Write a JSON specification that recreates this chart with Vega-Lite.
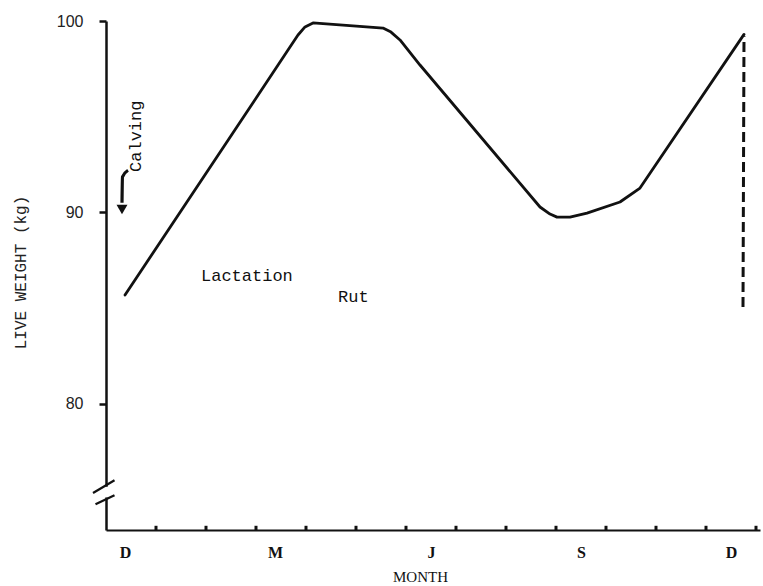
{
  "$schema": "https://vega.github.io/schema/vega-lite/v6.json",
  "autosize": {"type": "none"},
  "width": 654,
  "height": 509,
  "padding": {"left": 106, "top": 21, "right": 3, "bottom": 56},
  "background": "white",
  "config": {"view": {"stroke": null}},
  "datasets": {
    "weight": [
      {"month": 0.38, "kg": 85.68},
      {"month": 3.64, "kg": 98.48},
      {"month": 3.84, "kg": 99.27},
      {"month": 3.98, "kg": 99.69},
      {"month": 4.14, "kg": 99.9},
      {"month": 5.54, "kg": 99.63},
      {"month": 5.7, "kg": 99.42},
      {"month": 5.88, "kg": 99.01},
      {"month": 6.28, "kg": 97.7},
      {"month": 8.68, "kg": 90.28},
      {"month": 8.88, "kg": 89.91},
      {"month": 9.02, "kg": 89.75},
      {"month": 9.28, "kg": 89.75},
      {"month": 9.62, "kg": 89.96},
      {"month": 10.28, "kg": 90.54},
      {"month": 10.68, "kg": 91.27},
      {"month": 12.76, "kg": 99.3}
    ],
    "dashed": [
      {"month": 12.76, "kg": 99.2},
      {"month": 12.74, "kg": 85.05}
    ],
    "arrow": [
      {"month": 0.44, "kg": 92.2},
      {"month": 0.33, "kg": 91.85},
      {"month": 0.32, "kg": 90.5}
    ],
    "arrowhead": [{"month": 0.32, "kg": 90.15}],
    "ticks": [
      {"month": 1, "lo": 73.4, "hi": 73.62},
      {"month": 2, "lo": 73.4, "hi": 73.62},
      {"month": 3, "lo": 73.4, "hi": 73.62},
      {"month": 4, "lo": 73.4, "hi": 73.62},
      {"month": 5, "lo": 73.4, "hi": 73.62},
      {"month": 6, "lo": 73.4, "hi": 73.62},
      {"month": 7, "lo": 73.4, "hi": 73.62},
      {"month": 8, "lo": 73.4, "hi": 73.62},
      {"month": 9, "lo": 73.4, "hi": 73.62},
      {"month": 10, "lo": 73.4, "hi": 73.62},
      {"month": 11, "lo": 73.4, "hi": 73.62},
      {"month": 12, "lo": 73.4, "hi": 73.62},
      {"month": 13, "lo": 73.4, "hi": 73.62}
    ],
    "breakgap": [{"x1": 0, "x2": 0, "y1": 75.1, "y2": 75.66}],
    "slashes": [
      {"x1": -0.26, "x2": 0.17, "y1": 75.33, "y2": 76.0},
      {"x1": -0.21, "x2": 0.17, "y1": 74.75, "y2": 75.22}
    ],
    "labels": [
      {"month": 1.9, "kg": 86.41, "text": "Lactation"},
      {"month": 4.64, "kg": 85.31, "text": "Rut"}
    ],
    "calving": [{"month": 0.7, "kg": 92.11, "text": "Calving"}]
  },
  "layer": [
    {
      "data": {"name": "weight"},
      "mark": {"type": "line", "color": "#111", "strokeWidth": 2.8, "strokeJoin": "round", "strokeCap": "round"},
      "encoding": {
        "x": {
          "field": "month", "type": "quantitative",
          "scale": {"domain": [0, 13.08], "nice": false, "zero": false},
          "axis": {
            "title": "MONTH",
            "titleFont": "Liberation Serif", "titleFontSize": 15, "titleFontWeight": "normal", "titleColor": "#111",
            "titleX": 314, "titleY": 51, "titleBaseline": "alphabetic", "titleAlign": "center",
            "values": [0.38, 3.38, 6.5, 9.5, 12.5],
            "labelExpr": "datum.value < 1 ? 'D' : datum.value < 4 ? 'M' : datum.value < 7 ? 'J' : datum.value < 10 ? 'S' : 'D'",
            "labelFont": "Liberation Serif", "labelFontSize": 16, "labelFontWeight": "bold", "labelColor": "#111",
            "labelPadding": 14, "ticks": false, "tickSize": 0, "grid": false,
            "domainColor": "#111", "domainWidth": 2
          }
        },
        "y": {
          "field": "kg", "type": "quantitative",
          "scale": {"domain": [73.4, 100], "nice": false, "zero": false},
          "axis": {
            "title": "LIVE WEIGHT (kg)",
            "titleFont": "Liberation Mono", "titleFontSize": 16, "titleFontWeight": "normal", "titleColor": "#222",
            "titleAngle": -90, "titleX": -86, "titleY": 251, "titleAlign": "center", "titleBaseline": "middle",
            "values": [80, 90, 100],
            "labelFont": "Liberation Sans", "labelFontSize": 16, "labelColor": "#222",
            "labelPadding": 16, "tickSize": 7, "tickWidth": 2.5, "tickColor": "#111",
            "grid": false, "domainColor": "#111", "domainWidth": 2.5
          }
        }
      }
    },
    {
      "data": {"name": "dashed"},
      "mark": {"type": "line", "color": "#111", "strokeWidth": 3, "strokeDash": [10, 5]},
      "encoding": {
        "x": {"field": "month", "type": "quantitative"},
        "y": {"field": "kg", "type": "quantitative"}
      }
    },
    {
      "data": {"name": "arrow"},
      "mark": {"type": "line", "color": "#111", "strokeWidth": 3.2, "interpolate": "monotone"},
      "encoding": {
        "x": {"field": "month", "type": "quantitative"},
        "y": {"field": "kg", "type": "quantitative"}
      }
    },
    {
      "data": {"name": "arrowhead"},
      "mark": {"type": "point", "shape": "triangle-down", "filled": true, "color": "#111", "size": 120, "opacity": 1},
      "encoding": {
        "x": {"field": "month", "type": "quantitative"},
        "y": {"field": "kg", "type": "quantitative"}
      }
    },
    {
      "data": {"name": "ticks"},
      "mark": {"type": "rule", "color": "#111", "strokeWidth": 3},
      "encoding": {
        "x": {"field": "month", "type": "quantitative"},
        "y": {"field": "lo", "type": "quantitative"},
        "y2": {"field": "hi"}
      }
    },
    {
      "data": {"name": "breakgap"},
      "mark": {"type": "rule", "color": "white", "strokeWidth": 5},
      "encoding": {
        "x": {"field": "x1", "type": "quantitative"},
        "x2": {"field": "x2"},
        "y": {"field": "y1", "type": "quantitative"},
        "y2": {"field": "y2"}
      }
    },
    {
      "data": {"name": "slashes"},
      "mark": {"type": "rule", "color": "#111", "strokeWidth": 2.2},
      "encoding": {
        "x": {"field": "x1", "type": "quantitative"},
        "x2": {"field": "x2"},
        "y": {"field": "y1", "type": "quantitative"},
        "y2": {"field": "y2"}
      }
    },
    {
      "data": {"name": "labels"},
      "mark": {"type": "text", "font": "Liberation Mono", "fontSize": 17, "align": "left", "baseline": "alphabetic", "color": "#111"},
      "encoding": {
        "x": {"field": "month", "type": "quantitative"},
        "y": {"field": "kg", "type": "quantitative"},
        "text": {"field": "text"}
      }
    },
    {
      "data": {"name": "calving"},
      "mark": {"type": "text", "font": "Liberation Mono", "fontSize": 17, "align": "left", "baseline": "alphabetic", "angle": 270, "color": "#111"},
      "encoding": {
        "x": {"field": "month", "type": "quantitative"},
        "y": {"field": "kg", "type": "quantitative"},
        "text": {"field": "text"}
      }
    }
  ]
}
